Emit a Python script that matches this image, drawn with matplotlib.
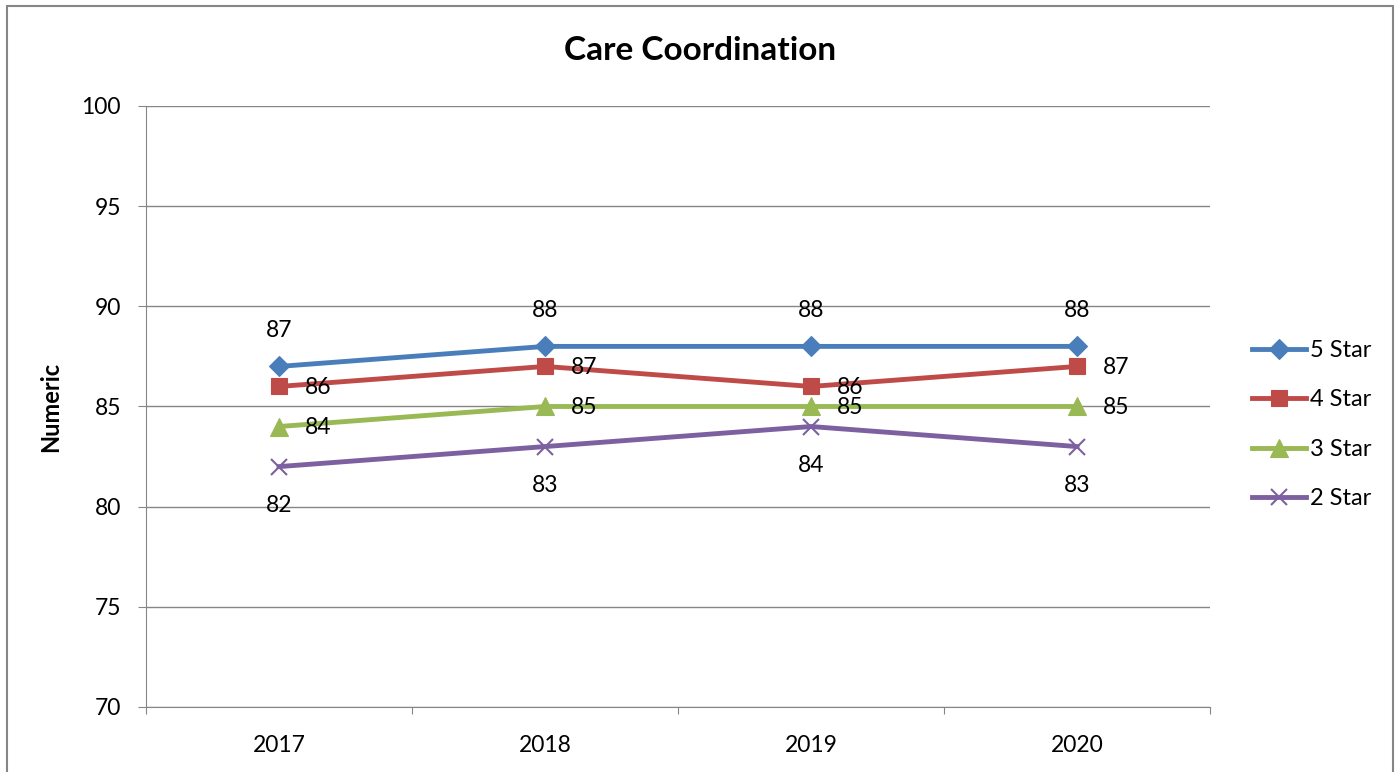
import matplotlib.pyplot as plt
from matplotlib.patches import Rectangle

plt.rcParams['font.family'] = ['Lato', 'DejaVu Sans']

years = ['2017', '2018', '2019', '2020']
star5 = [87, 88, 88, 88]
star4 = [86, 87, 86, 87]
star3 = [84, 85, 85, 85]
star2 = [82, 83, 84, 83]

series = [
    ('5 Star', star5, '#4a7ebb', 'D', 10, (0, 26)),
    ('4 Star', star4, '#be4b48', 's', 12, (28, -1)),
    ('3 Star', star3, '#98b954', '^', 13, (28, -1)),
    ('2 Star', star2, '#7d60a0', 'x', 12, (0, -28)),
]

fig = plt.figure(figsize=(14, 7.72), dpi=100)
ax = fig.add_axes([0.1043, 0.0842, 0.76, 0.7785])

x = list(range(len(years)))
for name, vals, col, mk, ms, off in series:
    ax.plot(x, vals, color=col, lw=3.5, marker=mk, markersize=ms,
            markeredgewidth=1.5 if mk == 'x' else 0.8, markeredgecolor=col,
            label=name)
    for xi, v in zip(x, vals):
        ax.annotate(str(v), (xi, v), xytext=off, textcoords='offset points',
                    ha='center', va='center', fontsize=16.5)

ax.set_xlim(-0.5, 3.5)
ax.set_ylim(70, 100)
ax.set_yticks(range(70, 101, 5))
ax.set_xticks([-0.5, 0.5, 1.5, 2.5, 3.5])
ax.set_xticklabels([])
ax.set_xticks(x, minor=True)
ax.set_xticklabels(years, minor=True)
ax.tick_params(axis='x', which='minor', length=0, pad=20, labelsize=16.5)
ax.tick_params(axis='x', which='major', length=5, color='#868686', direction='out')
ax.tick_params(axis='y', length=6, color='#868686', labelsize=16.5, pad=12)
ax.grid(axis='y', color='#868686', lw=1)
ax.set_axisbelow(True)
for s in ['top', 'right']:
    ax.spines[s].set_visible(False)
for s in ['left', 'bottom']:
    ax.spines[s].set_color('#868686')
ax.set_ylabel('Numeric', fontsize=17, fontweight='bold', labelpad=14)

fig.text(0.5, 0.935, 'Care Coordination', ha='center', va='center',
         fontsize=24, fontweight='bold')

fig.legend(loc='center left', bbox_to_anchor=(0.879, 0.45), frameon=False,
           fontsize=17, handlelength=2.3, handletextpad=0.15,
           labelspacing=1.2)

fig.patches.append(Rectangle((0.005, -0.01), 0.99, 1.002, transform=fig.transFigure,
                             fill=False, edgecolor='#868686', lw=1.5))

fig.savefig('out.png', dpi=100)
